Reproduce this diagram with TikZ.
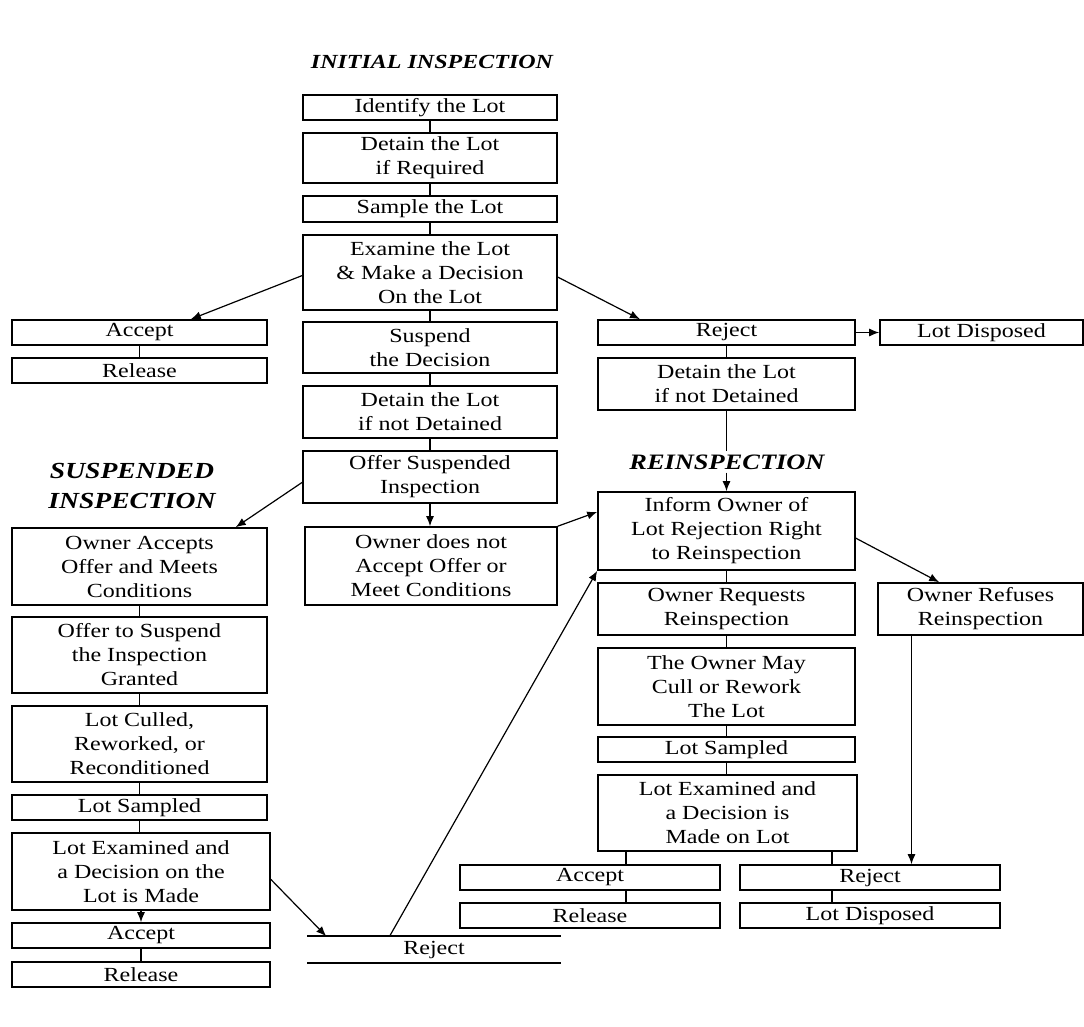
\documentclass[tikz,border=0pt]{standalone}
\usepackage{fontspec}
\setmainfont[FakeStretch=1.2]{Liberation Serif}
\usetikzlibrary{calc,arrows.meta}

% box from corner (x1,y1) to corner (x2,y2), y grows downwards
\newcommand{\bx}[6]{%
  \node[box, minimum width={#4-#2}, minimum height={#5-#3}] (#1)
    at ({(#2+#4)/2},{(#3+#5)/2}) {#6};}

\begin{document}
\begin{tikzpicture}[x=1pt,y=-1pt,
  box/.style={draw, line width=1.6pt, inner sep=0pt, align=center,
              font=\fontsize{20}{24}\selectfont},
  openbox/.style={box, draw=none},
  title/.style={align=center, inner sep=3pt},
  link/.style={line width=1.4pt},
  arr/.style={line width=1.2pt, -{Latex[length=10pt,width=8pt]}},
]
\useasboundingbox (0,0) rectangle (1084,1027);

% ---------- section titles ----------
\node[title, font=\fontsize{20}{24}\selectfont\bfseries\itshape] (tInit) at (432,62) {INITIAL INSPECTION};
\node[title, font=\fontsize{23}{30}\selectfont\bfseries\itshape] (tSusp) at (132,486) {SUSPENDED\\INSPECTION};
\node[title, font=\fontsize{22}{26}\selectfont\bfseries\itshape] (tReins) at (727,462) {REINSPECTION};

% ---------- initial inspection ----------
\bx{identify}{303}{95}{557}{120}{Identify the Lot}
\bx{detainA}{303}{133}{557}{183}{Detain the Lot\\if Required}
\bx{sample}{303}{196}{557}{222}{Sample the Lot}
\bx{examine}{303}{235}{557}{310}{Examine the Lot\\\& Make a Decision\\On the Lot}
\bx{suspend}{303}{322}{557}{373}{Suspend\\the Decision}
\bx{detainB}{303}{386}{557}{438}{Detain the Lot\\if not Detained}
\bx{offer}{303}{451}{557}{503}{Offer Suspended\\Inspection}
\bx{ownnot}{305}{527}{557}{605}{Owner does not\\Accept Offer or\\Meet Conditions}

\bx{acceptA}{12}{320}{267}{345}{Accept}
\bx{releaseA}{12}{358}{267}{383}{Release}

\bx{rejectA}{598}{320}{855}{345}{Reject}
\bx{disposeA}{880}{320}{1083}{345}{Lot Disposed}
\bx{detainC}{598}{358}{855}{410}{Detain the Lot\\if not Detained}

% ---------- suspended inspection ----------
\bx{ownacc}{12}{528}{267}{605}{Owner Accepts\\Offer and Meets\\Conditions}
\bx{offerto}{12}{617}{267}{693}{Offer to Suspend\\the Inspection\\Granted}
\bx{culled}{12}{706}{267}{782}{Lot Culled,\\Reworked, or\\Reconditioned}
\bx{sampledA}{12}{795}{267}{820}{Lot Sampled}
\bx{examA}{12}{833}{270}{910}{Lot Examined and\\a Decision on the\\Lot is Made}
\bx{acceptB}{12}{923}{270}{948}{Accept}
\bx{releaseB}{12}{962}{270}{987}{Release}
% the reject bar is ruled above and below only
\node[openbox, minimum width=252, minimum height=25] (rejectB) at (434,949.5) {Reject};
\draw[link, line width=1.6pt] (rejectB.north west) -- (rejectB.north east);
\draw[link, line width=1.6pt] (rejectB.south west) -- (rejectB.south east);

% ---------- reinspection ----------
\bx{inform}{598}{492}{855}{570}{Inform Owner of\\Lot Rejection Right\\to Reinspection}
\bx{request}{598}{583}{855}{635}{Owner Requests\\Reinspection}
\bx{cull}{598}{648}{855}{725}{The Owner May\\Cull or Rework\\The Lot}
\bx{sampledB}{598}{737}{855}{762}{Lot Sampled}
\bx{examB}{598}{775}{857}{851}{Lot Examined and\\a Decision is\\Made on Lot}
\bx{refuses}{878}{583}{1083}{635}{Owner Refuses\\Reinspection}
\bx{acceptC}{460}{865}{720}{890}{Accept}
\bx{releaseC}{460}{903}{720}{928}{Release}
\bx{rejectC}{740}{865}{1000}{890}{Reject}
\bx{disposeC}{740}{903}{1000}{928}{Lot Disposed}

% ---------- plain links between stacked boxes ----------
\foreach \a/\b in {identify/detainA, detainA/sample, sample/examine,
                   examine/suspend, suspend/detainB, detainB/offer,
                   acceptA/releaseA, rejectA/detainC,
                   ownacc/offerto, offerto/culled, culled/sampledA,
                   sampledA/examA, acceptB/releaseB,
                   inform/request, request/cull, cull/sampledB, sampledB/examB}
  \draw[link] (\a.south) -- (\a.south |- \b.north);
\draw[link] (detainC.south) -- (detainC.south |- tReins.north);

% offset links below the second decision
\coordinate (accX) at ($(acceptC.north west)!0.638!(acceptC.north east)$);
\coordinate (rejX) at ($(rejectC.north west)!0.354!(rejectC.north east)$);
\draw[link] (accX |- examB.south) -- (accX);
\draw[link] (rejX |- examB.south) -- (rejX);
\draw[link] (accX |- acceptC.south) -- (accX |- releaseC.north);
\draw[link] (rejX |- rejectC.south) -- (rejX |- disposeC.north);

% ---------- arrows ----------
\draw[arr] ($(examine.north west)!0.54!(examine.south west)$) -- ($(acceptA.north west)!0.70!(acceptA.north east)$);
\draw[arr] ($(examine.north east)!0.56!(examine.south east)$) -- ($(rejectA.north west)!0.165!(rejectA.north east)$);
\draw[arr] (rejectA.east) -- (disposeA.west);
\draw[arr] ($(offer.north west)!0.6!(offer.south west)$) -- ($(ownacc.north west)!0.875!(ownacc.north east)$);
\draw[arr] (offer.south) -- (offer.south |- ownnot.north);
\draw[arr] (ownnot.north east) -- ($(inform.north west)!0.26!(inform.south west)$);
\draw[arr] (detainC.south |- tReins.south) -- (detainC.south |- inform.north);
\draw[arr] (acceptB.north |- examA.south) -- (acceptB.north);
\draw[arr] ($(examA.north east)!0.6!(examA.south east)$) -- ($(rejectB.north west)!0.075!(rejectB.north east)$);
\draw[arr] ($(rejectB.north west)!0.325!(rejectB.north east)$) -- (inform.south west);
\draw[arr] ($(inform.north east)!0.59!(inform.south east)$) -- ($(refuses.north west)!0.30!(refuses.north east)$);
\coordinate (refX) at ($(refuses.south west)!0.166!(refuses.south east)$);
\draw[arr] (refX) -- (refX |- rejectC.north);

\end{tikzpicture}
\end{document}
